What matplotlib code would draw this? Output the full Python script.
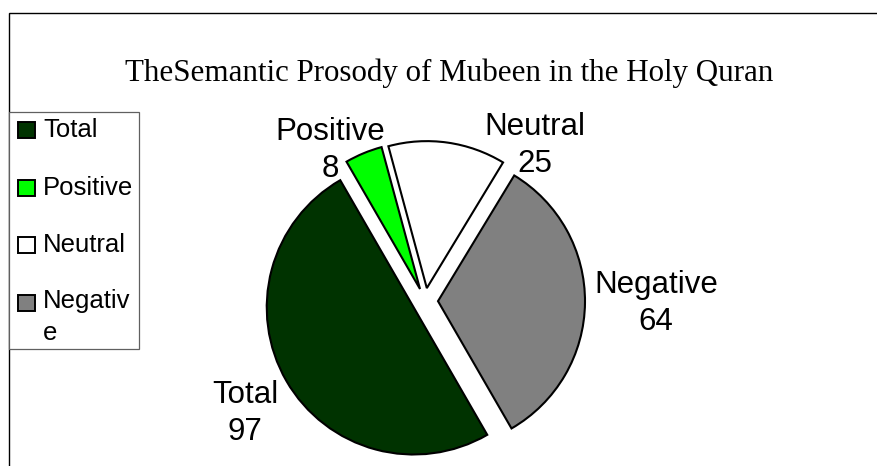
import matplotlib
matplotlib.use("Agg")
import matplotlib.pyplot as plt
from matplotlib.patches import Rectangle

# chart data
categories = ["Total", "Positive", "Neutral", "Negative"]
values = [97, 8, 25, 64]
colors = ["#003300", "#00ff00", "#ffffff", "#808080"]
legend_labels = ["Total", "Positive", "Neutral", "Negativ\ne"]
title = "TheSemantic Prosody of Mubeen in the Holy Quran"

W, H = 877, 466
fig = plt.figure(figsize=(W / 100, H / 100), dpi=100)
ax = fig.add_axes([0, 0, 1, 1])

# pie (axes units are pixels, y measured up from bottom)
wedges, _ = ax.pie(values, colors=colors, startangle=-60, counterclock=False,
                   explode=[13] * 4, radius=147, center=(425, H - 301),
                   wedgeprops=dict(edgecolor="black", linewidth=1.5))
ax.set_xlim(0, W)
ax.set_ylim(0, H)
ax.set_aspect("auto")
ax.axis("off")

# data labels: name + value (y = baseline of the value line)
label_pos = {"Total": (245, 440), "Positive": (330, 177),
             "Neutral": (535, 172), "Negative": (656, 330)}
for name, val in zip(categories, values):
    x, y = label_pos[name]
    ax.text(x, H - y, f"{name}\n{val}", ha="center", va="baseline",
            family="Liberation Sans", fontsize=22.5, linespacing=1.3,
            zorder=5)

# title
ax.text(449, H - 81, title, ha="center", va="baseline",
        family="Liberation Serif", fontsize=22.3)

# outer chart frame (only top and left visible)
ax.add_patch(Rectangle((9, -20), W + 20, H - 13 + 20, fill=False,
                       edgecolor="black", linewidth=1.0, clip_on=False))

# legend box drawn by hand
ax.add_patch(Rectangle((9, H - 349), 130, 237, facecolor="white",
                       edgecolor="#606060", linewidth=0.9))
for i, (lab, col) in enumerate(zip(legend_labels, colors)):
    base = 137 + 57.6 * i
    ax.add_patch(Rectangle((18, H - base - 1), 17, 16, facecolor=col,
                           edgecolor="black", linewidth=1.4))
    last = base + 30 * lab.count("\n")
    ax.text(43, H - last, lab, ha="left", va="baseline",
            family="Liberation Sans", fontsize=18.5, linespacing=1.4)

fig.savefig("out.png", dpi=100)
